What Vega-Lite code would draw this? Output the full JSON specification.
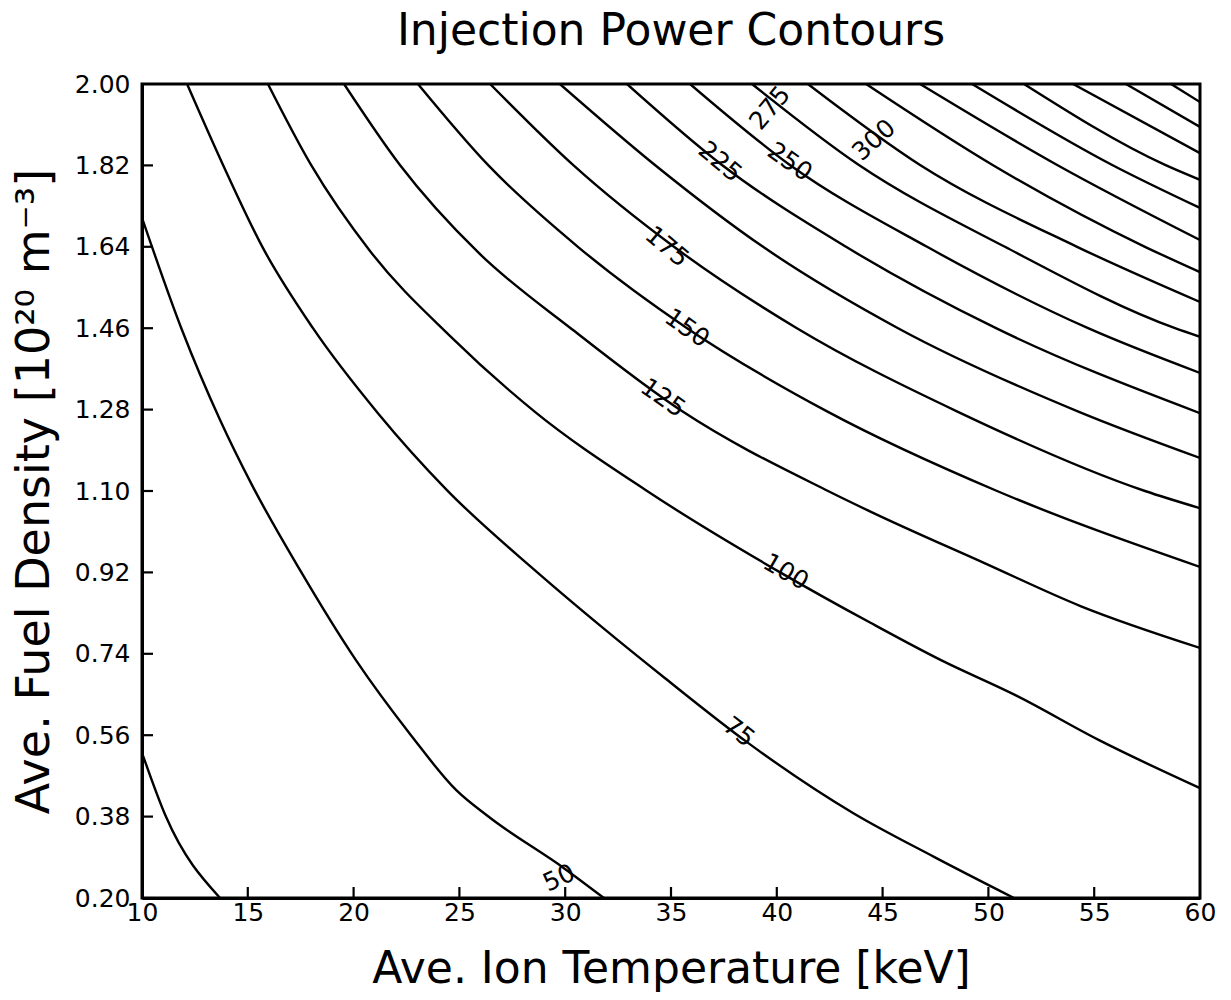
{
  "$schema": "https://vega.github.io/schema/vega-lite/v6.json",
  "width": 1058,
  "height": 814,
  "autosize": {"type": "none"},
  "padding": {"left": 142, "top": 84, "right": 31, "bottom": 102},
  "background": "white",
  "title": {"text": "Injection Power Contours", "fontSize": 44, "font": "DejaVu Sans", "fontWeight": "normal", "color": "black", "anchor": "middle", "offset": 18},
  "config": {
    "view": {"stroke": "black", "strokeWidth": 3},
    "axis": {"grid": false, "zindex": 1, "ticks": false, "domainColor": "black", "domainWidth": 3, "labelColor": "black", "labelFont": "DejaVu Sans", "labelFontSize": 25, "titleColor": "black", "titleFont": "DejaVu Sans", "titleFontSize": 44, "titleFontWeight": "normal", "labelFlush": false}
  },
  "datasets": {
    "contours": [
      {"c": 25, "t": 10, "n": 0.521}, {"c": 25, "t": 11.13, "n": 0.38}, {"c": 25, "t": 13.69, "n": 0.2},
      {"c": 50, "t": 10, "n": 1.704}, {"c": 50, "t": 11.89, "n": 1.456}, {"c": 50, "t": 13.69, "n": 1.257}, {"c": 50, "t": 15.2, "n": 1.113}, {"c": 50, "t": 17.47, "n": 0.925}, {"c": 50, "t": 20.11, "n": 0.726}, {"c": 50, "t": 22.71, "n": 0.56}, {"c": 50, "t": 24.84, "n": 0.439}, {"c": 50, "t": 26.4, "n": 0.379}, {"c": 50, "t": 29.94, "n": 0.266}, {"c": 50, "t": 31.83, "n": 0.2},
      {"c": 75, "t": 12.13, "n": 2.0}, {"c": 75, "t": 13.83, "n": 1.821}, {"c": 75, "t": 15.72, "n": 1.637}, {"c": 75, "t": 18.08, "n": 1.46}, {"c": 75, "t": 21.15, "n": 1.272}, {"c": 75, "t": 24.41, "n": 1.102}, {"c": 75, "t": 28.71, "n": 0.919}, {"c": 75, "t": 31.74, "n": 0.799}, {"c": 75, "t": 34.72, "n": 0.686}, {"c": 75, "t": 38.64, "n": 0.543}, {"c": 75, "t": 43.6, "n": 0.388}, {"c": 75, "t": 47.43, "n": 0.291}, {"c": 75, "t": 51.21, "n": 0.2},
      {"c": 100, "t": 15.95, "n": 2.0}, {"c": 100, "t": 17.99, "n": 1.821}, {"c": 100, "t": 20.82, "n": 1.628}, {"c": 100, "t": 24.6, "n": 1.441}, {"c": 100, "t": 28.57, "n": 1.275}, {"c": 100, "t": 33.87, "n": 1.1}, {"c": 100, "t": 40.2, "n": 0.919}, {"c": 100, "t": 44.45, "n": 0.808}, {"c": 100, "t": 47.76, "n": 0.726}, {"c": 100, "t": 51.3, "n": 0.648}, {"c": 100, "t": 55.23, "n": 0.549}, {"c": 100, "t": 60, "n": 0.443},
      {"c": 125, "t": 19.55, "n": 2.0}, {"c": 125, "t": 22.19, "n": 1.821}, {"c": 125, "t": 25.88, "n": 1.628}, {"c": 125, "t": 30.37, "n": 1.456}, {"c": 125, "t": 35.57, "n": 1.275}, {"c": 125, "t": 42.42, "n": 1.1}, {"c": 125, "t": 44.4, "n": 1.055}, {"c": 125, "t": 49.84, "n": 0.94}, {"c": 125, "t": 54.38, "n": 0.845}, {"c": 125, "t": 60, "n": 0.753},
      {"c": 150, "t": 23.04, "n": 2.0}, {"c": 150, "t": 26.35, "n": 1.821}, {"c": 150, "t": 30.6, "n": 1.64}, {"c": 150, "t": 35.76, "n": 1.46}, {"c": 150, "t": 42.42, "n": 1.275}, {"c": 150, "t": 50.41, "n": 1.1}, {"c": 150, "t": 60, "n": 0.932},
      {"c": 175, "t": 26.45, "n": 2.0}, {"c": 175, "t": 30.37, "n": 1.821}, {"c": 175, "t": 35.14, "n": 1.64}, {"c": 175, "t": 40.95, "n": 1.46}, {"c": 175, "t": 48.56, "n": 1.275}, {"c": 175, "t": 57.4, "n": 1.1}, {"c": 175, "t": 60, "n": 1.062},
      {"c": 200, "t": 29.75, "n": 2.0}, {"c": 200, "t": 34.24, "n": 1.821}, {"c": 200, "t": 39.35, "n": 1.64}, {"c": 200, "t": 45.73, "n": 1.46}, {"c": 200, "t": 54.28, "n": 1.275}, {"c": 200, "t": 60, "n": 1.173},
      {"c": 225, "t": 32.92, "n": 2.0}, {"c": 225, "t": 37.41, "n": 1.821}, {"c": 225, "t": 43.27, "n": 1.64}, {"c": 225, "t": 50.36, "n": 1.46}, {"c": 225, "t": 60, "n": 1.272},
      {"c": 250, "t": 35.9, "n": 2.0}, {"c": 250, "t": 40.62, "n": 1.821}, {"c": 250, "t": 47.1, "n": 1.64}, {"c": 250, "t": 54.71, "n": 1.46}, {"c": 250, "t": 60, "n": 1.361},
      {"c": 275, "t": 38.83, "n": 2.0}, {"c": 275, "t": 43.88, "n": 1.821}, {"c": 275, "t": 50.78, "n": 1.64}, {"c": 275, "t": 58.82, "n": 1.46}, {"c": 275, "t": 60, "n": 1.441},
      {"c": 300, "t": 41.47, "n": 2.0}, {"c": 300, "t": 46.77, "n": 1.821}, {"c": 300, "t": 54.19, "n": 1.64}, {"c": 300, "t": 60, "n": 1.518},
      {"c": 325, "t": 44.22, "n": 2.0}, {"c": 325, "t": 50.2, "n": 1.821}, {"c": 325, "t": 57.4, "n": 1.64}, {"c": 325, "t": 60, "n": 1.584},
      {"c": 350, "t": 46.77, "n": 2.0}, {"c": 350, "t": 53.25, "n": 1.821}, {"c": 350, "t": 60, "n": 1.655},
      {"c": 375, "t": 49.23, "n": 2.0}, {"c": 375, "t": 55.85, "n": 1.821}, {"c": 375, "t": 60, "n": 1.726},
      {"c": 400, "t": 51.68, "n": 2.0}, {"c": 400, "t": 58.35, "n": 1.821}, {"c": 400, "t": 60, "n": 1.788},
      {"c": 425, "t": 54.0, "n": 2.0}, {"c": 425, "t": 60, "n": 1.847},
      {"c": 450, "t": 56.5, "n": 2.0}, {"c": 450, "t": 60, "n": 1.905},
      {"c": 475, "t": 58.63, "n": 2.0}, {"c": 475, "t": 60, "n": 1.96}
    ],
    "labels": [
      {"lab": "50", "t": 29.71, "n": 0.244, "a": -25},
      {"lab": "75", "t": 38.21, "n": 0.567, "a": 38},
      {"lab": "100", "t": 40.43, "n": 0.921, "a": 30},
      {"lab": "125", "t": 34.62, "n": 1.306, "a": 35},
      {"lab": "150", "t": 35.76, "n": 1.46, "a": 35},
      {"lab": "175", "t": 34.81, "n": 1.64, "a": 40},
      {"lab": "225", "t": 37.32, "n": 1.828, "a": 40},
      {"lab": "250", "t": 40.62, "n": 1.828, "a": 35},
      {"lab": "275", "t": 39.68, "n": 1.947, "a": -50},
      {"lab": "300", "t": 44.59, "n": 1.876, "a": -42}
    ],
    "xticks": [{"v": 15}, {"v": 20}, {"v": 25}, {"v": 30}, {"v": 35}, {"v": 40}, {"v": 45}, {"v": 50}, {"v": 55}],
    "yticks": [{"v": 0.38}, {"v": 0.56}, {"v": 0.74}, {"v": 0.92}, {"v": 1.1}, {"v": 1.28}, {"v": 1.46}, {"v": 1.64}, {"v": 1.82}]
  },
  "layer": [
    {
      "data": {"name": "contours"},
      "mark": {"type": "line", "color": "black", "strokeWidth": 2.4, "clip": true, "interpolate": "monotone"},
      "encoding": {
        "x": {"field": "t", "type": "quantitative", "scale": {"domain": [10, 60], "nice": false, "zero": false},
              "axis": {"title": "Ave. Ion Temperature [keV]", "values": [10, 15, 20, 25, 30, 35, 40, 45, 50, 55, 60], "labelPadding": 2, "titlePadding": 22}},
        "y": {"field": "n", "type": "quantitative", "scale": {"domain": [0.2, 2.0], "nice": false, "zero": false},
              "axis": {"title": "Ave. Fuel Density [10²⁰ m⁻³]", "titleFontSize": 46, "values": [0.2, 0.38, 0.56, 0.74, 0.92, 1.1, 1.28, 1.46, 1.64, 1.82, 2.0], "format": ".2f", "labelPadding": 12, "titlePadding": 16}},
        "detail": {"field": "c", "type": "nominal"}
      }
    },
    {
      "data": {"name": "yticks"},
      "mark": {"type": "tick", "orient": "horizontal", "size": 22, "thickness": 2.2, "color": "black", "clip": true, "opacity": 1},
      "encoding": {
        "x": {"datum": 10, "type": "quantitative"},
        "y": {"field": "v", "type": "quantitative"}
      }
    },
    {
      "data": {"name": "xticks"},
      "mark": {"type": "tick", "orient": "vertical", "size": 22, "thickness": 2.2, "color": "black", "clip": true, "opacity": 1},
      "encoding": {
        "x": {"field": "v", "type": "quantitative"},
        "y": {"datum": 0.2, "type": "quantitative"}
      }
    },
    {
      "data": {"name": "labels"},
      "mark": {"type": "text", "font": "DejaVu Sans", "fontSize": 25, "color": "black", "align": "center", "baseline": "middle"},
      "encoding": {
        "x": {"field": "t", "type": "quantitative"},
        "y": {"field": "n", "type": "quantitative"},
        "text": {"field": "lab"},
        "angle": {"field": "a", "type": "quantitative", "scale": null}
      }
    }
  ]
}
